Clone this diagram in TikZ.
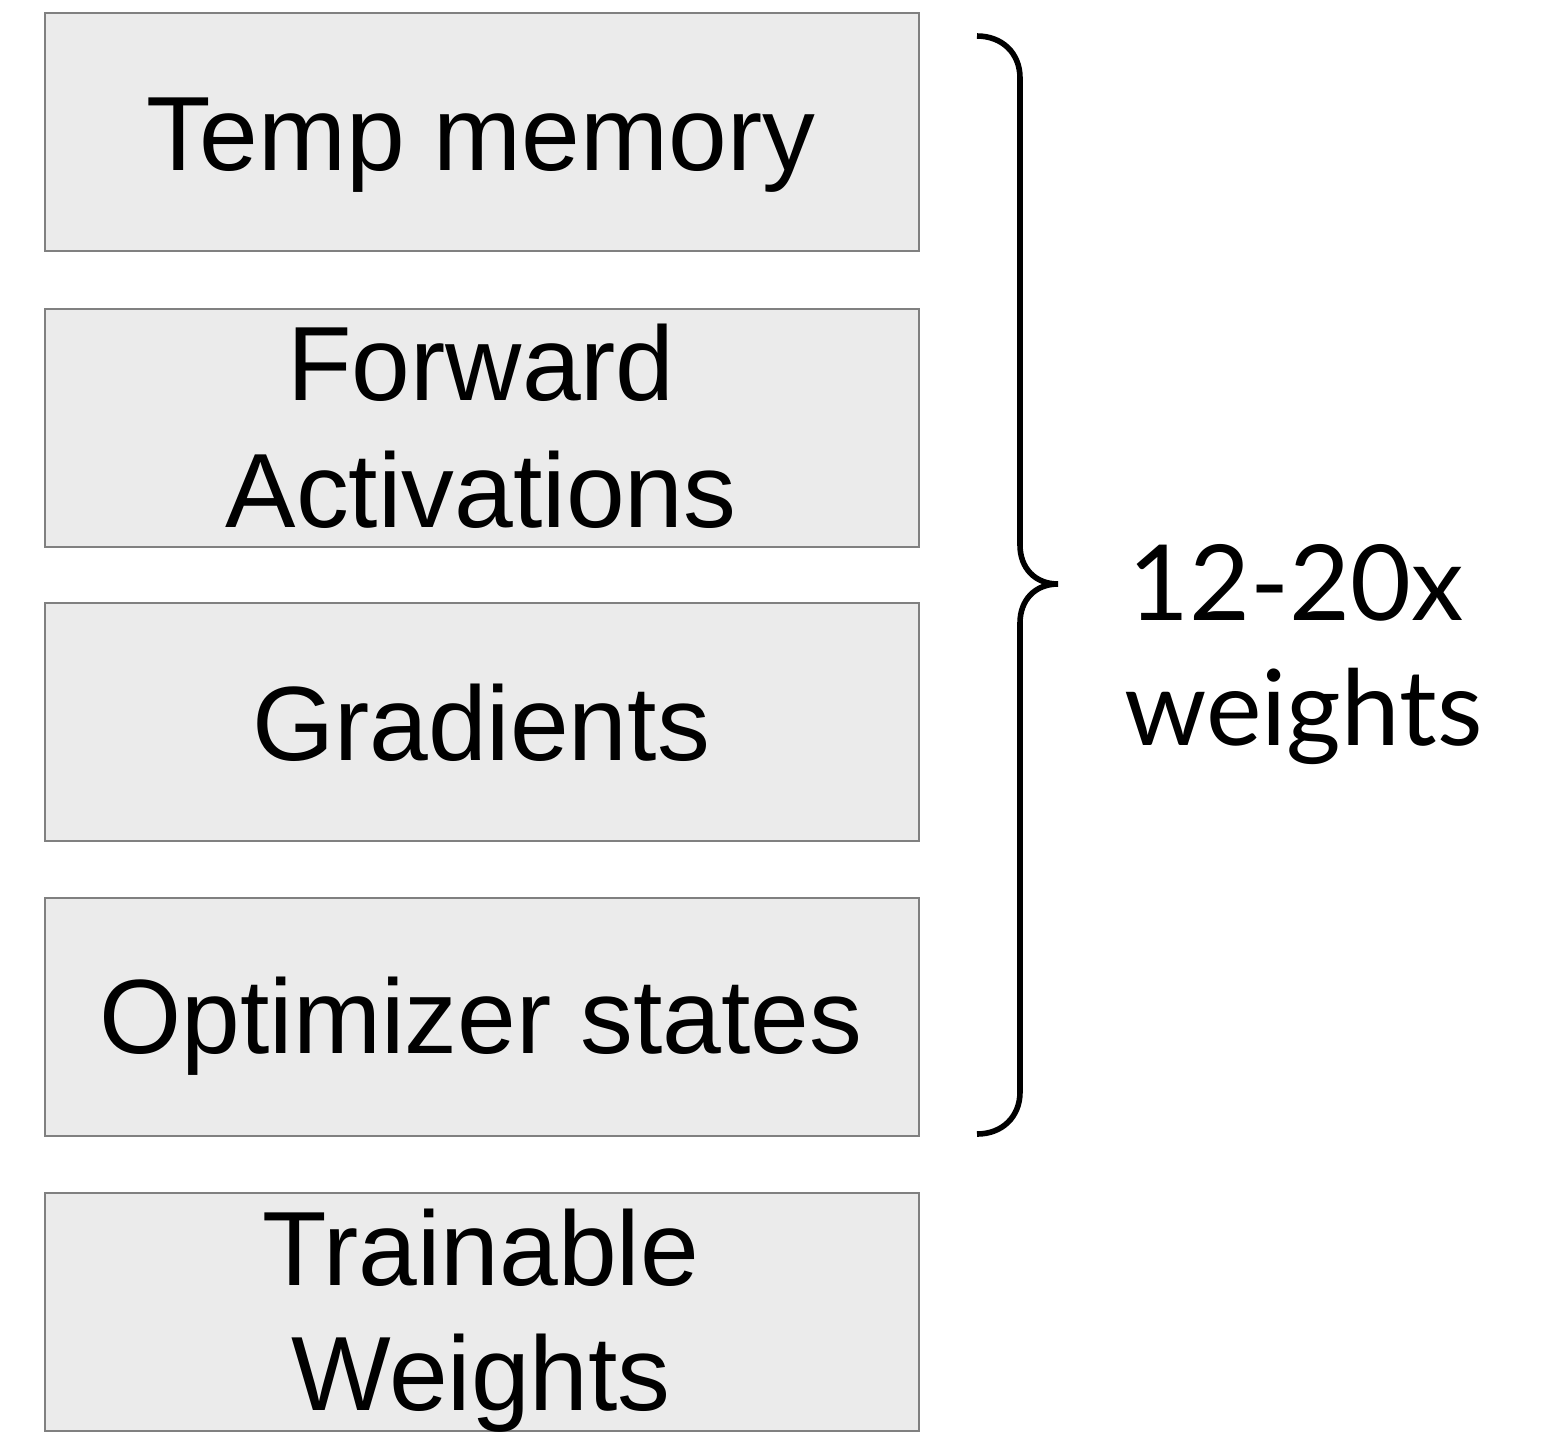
\documentclass[tikz,border=0pt]{standalone}
\usepackage{fontspec}
\setmainfont{Liberation Sans}
\newfontfamily\latofont{Lato}
\begin{document}
\begin{tikzpicture}[x=0.5pt,y=-0.5pt,
  memblock/.style={draw=black!50, line width=1pt, fill=black!8, minimum width=437pt, minimum height=119pt, inner sep=0pt, anchor=north west},
  blocktext/.style={font=\fontsize{52.8}{63}\selectfont, anchor=base, inner sep=0pt},
  bracetext/.style={font=\latofont\fontsize{52.5}{62.5}\selectfont, anchor=base west, inner sep=0pt},
  bracepath/.style={line width=2.8pt, line cap=butt}]
\useasboundingbox (0,0) rectangle (1542,1432);

% stacked memory blocks
\node[memblock] (temp) at (44,12) {};
\node[memblock] (fwd)  at (44,308) {};
\node[memblock] (grad) at (44,602) {};
\node[memblock] (opt)  at (44,897) {};
\node[memblock] (wts)  at (44,1192) {};

% block labels, placed on their baselines
\node[blocktext] (tTemp) at (481,170) {Temp memory};
\node[blocktext] (tFwd1) at (481,400) {Forward};
\node[blocktext] (tFwd2) at (481,527) {Activations};
\node[blocktext] (tGrad) at (481,760) {Gradients};
\node[blocktext] (tOpt)  at (481,1053) {Optimizer states};
\node[blocktext] (tWts1) at (481,1285) {Trainable};
\node[blocktext] (tWts2) at (481,1410) {Weights};

% curly brace over the upper four blocks
\coordinate (bTop) at (977,36);
\coordinate (bTip) at (1058,584);
\coordinate (bBot) at (977,1134);
\draw[bracepath] (bTop) .. controls (1002,36) and (1020,53) .. (1020,78)
  -- (1020,545) .. controls (1020,568) and (1035,584) .. (bTip)
  .. controls (1035,584) and (1020,600) .. (1020,623)
  -- (1020,1092) .. controls (1020,1117) and (1002,1134) .. (bBot);

% brace annotation
\node[bracetext] (ratio) at (1128,620) {12-20x};
\node[bracetext] (ratio2) at (1124,745) {weights};
\end{tikzpicture}
\end{document}
